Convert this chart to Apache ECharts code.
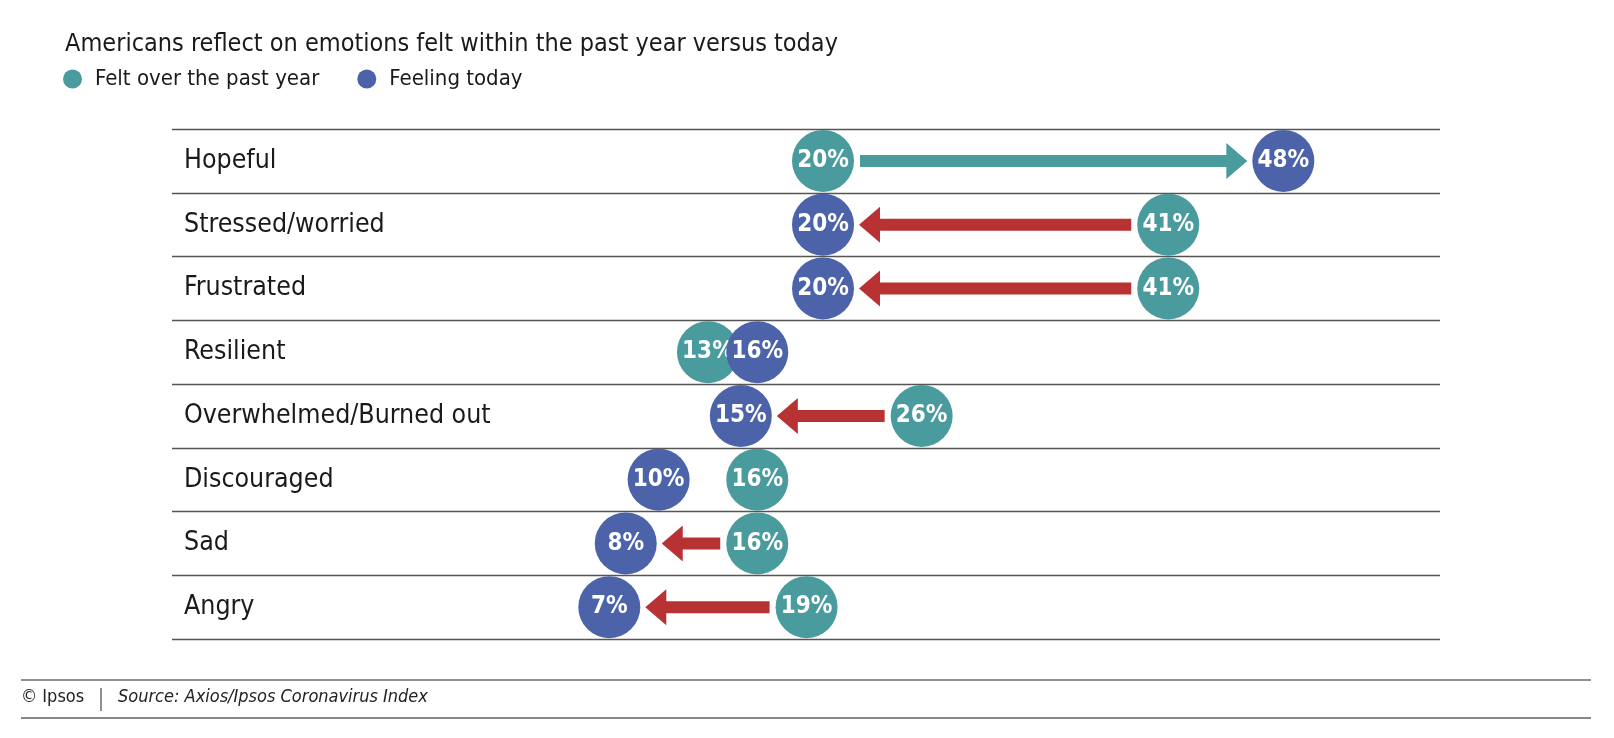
<!DOCTYPE html>
<html>
<head>
<meta charset="utf-8">
<script src="https://cdn.jsdelivr.net/npm/echarts@6/dist/echarts.min.js"></script>
<style>
html,body{margin:0;padding:0;background:#fff;}
#chart{width:1614px;height:738px;}
</style>
</head>
<body>
<div id="chart"></div>
<script>
const categories = ['Hopeful','Stressed/worried','Frustrated','Resilient','Overwhelmed/Burned out','Discouraged','Sad','Angry'];
const pastYear = [20, 41, 41, 13, 26, 16, 16, 19];
const today = [48, 20, 20, 16, 15, 10, 8, 7];
const hasArrow = [true, true, true, false, true, false, true, true];
const seriesNames = ['Felt over the past year', 'Feeling today'];

const FONT = "'Liberation Sans Narrow','DejaVu Sans Condensed','Roboto Condensed','Liberation Sans',sans-serif";
const TEAL = '#4A9B9E';
const BLUE = '#4C63AA';
const RED = '#B83234';
const SYM = 62;

const chart = echarts.init(document.getElementById('chart'));

const arrowData = categories.map((c, i) => [pastYear[i], today[i], i, hasArrow[i] ? 1 : 0]);

function renderArrow(params, api) {
  if (!api.value(3)) return null;
  const p0 = api.coord([api.value(0), api.value(2)]);
  const p1 = api.coord([api.value(1), api.value(2)]);
  const dir = p1[0] > p0[0] ? 1 : -1;
  const r = SYM / 2;
  const y = p0[1];
  const sx = p0[0] + dir * (r + 6);
  const tx = p1[0] - dir * (r + 5);
  const hl = 21, hh = 18, sh = 6;
  const bx = tx - dir * hl;
  return {
    type: 'polygon',
    shape: { points: [[sx, y - sh], [bx, y - sh], [bx, y - hh], [tx, y], [bx, y + hh], [bx, y + sh], [sx, y + sh]] },
    style: { fill: dir > 0 ? TEAL : RED }
  };
}

const labelStyle = {
  show: true,
  position: 'inside',
  color: '#fff',
  fontFamily: FONT,
  fontWeight: 'bold',
  fontSize: 24,
  formatter: p => p.value[0] + '%'
};

chart.setOption({
  animation: false,
  title: {
    text: 'Americans reflect on emotions felt within the past year versus today',
    left: 60, top: 27,
    textStyle: { fontFamily: FONT, fontWeight: 'normal', fontSize: 25, color: '#1a1a1a' }
  },
  legend: {
    left: 58, top: 63,
    icon: 'circle',
    itemWidth: 19, itemHeight: 19,
    itemGap: 38,
    textStyle: { fontFamily: FONT, fontSize: 22, color: '#1a1a1a', padding: [0, 0, 0, 8] },
    data: seriesNames
  },
  grid: { left: 172, right: 174, top: 129, bottom: 99 },
  xAxis: {
    type: 'value', min: -19.6, max: 57.53, show: false
  },
  yAxis: {
    type: 'category', data: categories, inverse: true,
    axisLine: { show: false }, axisTick: { show: false },
    axisLabel: { inside: true, margin: 12, fontFamily: FONT, fontSize: 26.5, color: '#1a1a1a', padding: [5, 0, 0, 0] },
    splitLine: { show: true, lineStyle: { color: '#555', width: 1.4 } }
  },
  series: [
    {
      type: 'custom', name: 'arrows', renderItem: renderArrow,
      data: arrowData, encode: { x: [0, 1], y: 2 }, silent: true, z: 1
    },
    {
      type: 'scatter', name: seriesNames[0], symbol: 'circle', symbolSize: SYM,
      itemStyle: { color: TEAL, opacity: 1 },
      label: labelStyle,
      data: pastYear.map((v, i) => [v, i]), z: 2
    },
    {
      type: 'scatter', name: seriesNames[1], symbol: 'circle', symbolSize: SYM,
      itemStyle: { color: BLUE, opacity: 1 },
      label: labelStyle,
      data: today.map((v, i) => [v, i]), z: 3
    }
  ],
  graphic: [
    { type: 'line', shape: { x1: 21, y1: 680, x2: 1591, y2: 680 }, style: { stroke: '#222', lineWidth: 1.2 } },
    { type: 'line', shape: { x1: 21, y1: 718, x2: 1591, y2: 718 }, style: { stroke: '#888', lineWidth: 2 } },
    { type: 'text', left: 21, top: 688, style: { text: '© Ipsos', fontFamily: FONT, fontSize: 18, fill: '#222' } },
    { type: 'line', shape: { x1: 101, y1: 688, x2: 101, y2: 711 }, style: { stroke: '#222', lineWidth: 1 } },
    { type: 'text', left: 118, top: 688, style: { text: 'Source: Axios/Ipsos Coronavirus Index', fontFamily: FONT, fontStyle: 'italic', fontSize: 18, fill: '#222' } }
  ]
});
</script>
</body>
</html>
